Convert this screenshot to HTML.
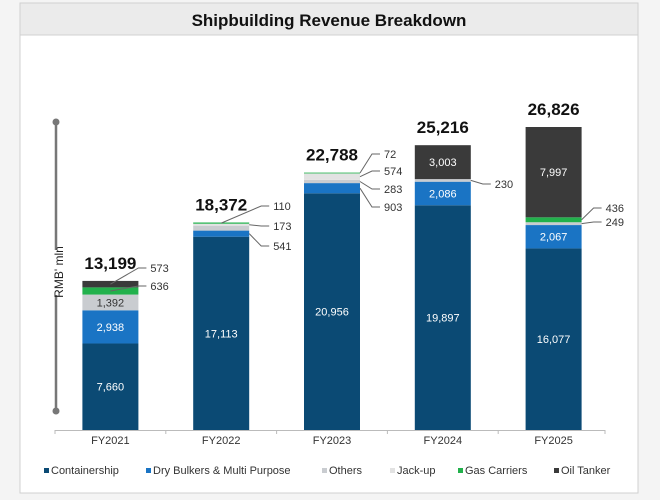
<!DOCTYPE html>
<html><head><meta charset="utf-8"><style>
html,body{margin:0;padding:0;background:#f4f4f4;}
svg{display:block;font-family:"Liberation Sans",Arial,sans-serif;}
</style></head><body>
<svg id="c" width="660" height="500" viewBox="0 0 660 500">
<rect x="20" y="3" width="618" height="490" fill="#fff" stroke="#d0d0d0"/>
<rect x="20" y="3" width="618" height="32" fill="#ebebeb" stroke="#d0d0d0"/>
<text x="329" y="26" text-anchor="middle" font-size="17" font-weight="bold" fill="#111">Shipbuilding Revenue Breakdown</text>
<g>
<line x1="56" y1="122" x2="56" y2="250" stroke="#777" stroke-width="2.5"/>
<line x1="56" y1="295" x2="56" y2="411" stroke="#777" stroke-width="2.5"/>
<circle cx="56" cy="122" r="3.5" fill="#777"/><circle cx="56" cy="411" r="3.5" fill="#777"/>
</g>
<text transform="translate(63,272) rotate(-90)" text-anchor="middle" font-size="12" fill="#222">RMB' mln</text>
<line x1="55" y1="430.5" x2="605" y2="430.5" stroke="#bbb"/>
<g id="bars"></g>
</svg>
<script>
const categories=["FY2021","FY2022","FY2023","FY2024","FY2025"];
const seriesNames=["Containership","Dry Bulkers & Multi Purpose","Others","Jack-up","Gas Carriers","Oil Tanker"];
const containership=[7660,17113,20956,19897,16077];
const dryBulkers=[2938,541,903,2086,2067];
const others=[1392,435,283,230,249];
const jackup=[0,173,574,0,0];
const gasCarriers=[636,110,72,0,436];
const oilTanker=[573,0,0,3003,7997];
const totals=["13,199","18,372","22,788","25,216","26,826"];
const colors=["#0b4a74","#1a74c4","#c9ccd0","#e2e2e2","#22b14c","#3a3a3a"];
const series=[containership,dryBulkers,others,jackup,gasCarriers,oilTanker];
const svg=document.getElementById('c');const g=document.getElementById('bars');
const NS="http://www.w3.org/2000/svg";
const base=430,k=303/26826,x0=55,step=110.8,bw=56;
const y=v=>base-v*k;const cx=i=>x0+step*(i+0.5);
function mk(t,a,p){const e=document.createElementNS(NS,t);for(const q in a)e.setAttribute(q,a[q]);(p||g).appendChild(e);return e;}
const fmt=v=>v.toLocaleString('en-US');
// callouts: [catIndex, seriesIndex, labelX offset, labelY]
const callouts=[[0,5,40,272],[0,4,40,290],[1,4,52,210],[1,3,52,230],[1,1,52,250],
[2,4,52,158],[2,3,52,175],[2,2,52,193],[2,1,52,211],[3,2,52,188],[4,4,52,212],[4,2,52,226]];
categories.forEach((c,i)=>{
  let acc=0;const segs=[];
  series.forEach((s,j)=>{const v=s[i];const r=mk('rect',{x:cx(i)-bw/2,y:y(acc+v),width:bw,height:Math.max(0,v*k),fill:colors[j]});
    
    
    segs.push([acc,v]);
    if(v*k>14){const t=mk('text',{x:cx(i),y:y(acc+v/2)+4,'text-anchor':'middle','font-size':11,fill:j==2?'#333':'#fff'});t.textContent=fmt(v);
      }
    acc+=v;});
  const t=mk('text',{x:cx(i),y:y(acc)-12,'text-anchor':'middle','font-size':17,'font-weight':'bold',fill:'#111'});t.textContent=totals[i];
  
  const cl=mk('text',{x:cx(i),y:444,'text-anchor':'middle','font-size':11,fill:'#333'});cl.textContent=c;
  
  const tk=mk('line',{x1:x0+step*i,y1:430,x2:x0+step*i,y2:434,stroke:'#bbb'});
  
  callouts.filter(o=>o[0]===i).forEach(o=>{const [a,v]=segs[o[1]];const sy=y(a+v/2);const sx=cx(i)+(o[1]>=4&&i<2?0:bw/2);
    const lx=cx(i)+o[2];
    const l=mk('polyline',{points:`${sx},${sy} ${lx-12},${o[3]-4} ${lx-4},${o[3]-4}`,fill:'none',stroke:'#666','stroke-width':1});
    
    const tt=mk('text',{x:lx,y:o[3],'font-size':11,fill:'#333'});tt.textContent=fmt(series[o[1]][i]);
    });
});
mk('line',{x1:605,y1:430,x2:605,y2:434,stroke:'#bbb'});
const lx=[44,146,322,390,458,554];
seriesNames.forEach((n,j)=>{const r=mk('rect',{x:lx[j],y:468,width:5,height:5,fill:colors[j]});
  
  const t=mk('text',{x:lx[j]+7,y:474,'font-size':11,fill:'#333'});t.textContent=n;
  });
</script>
</body></html>
